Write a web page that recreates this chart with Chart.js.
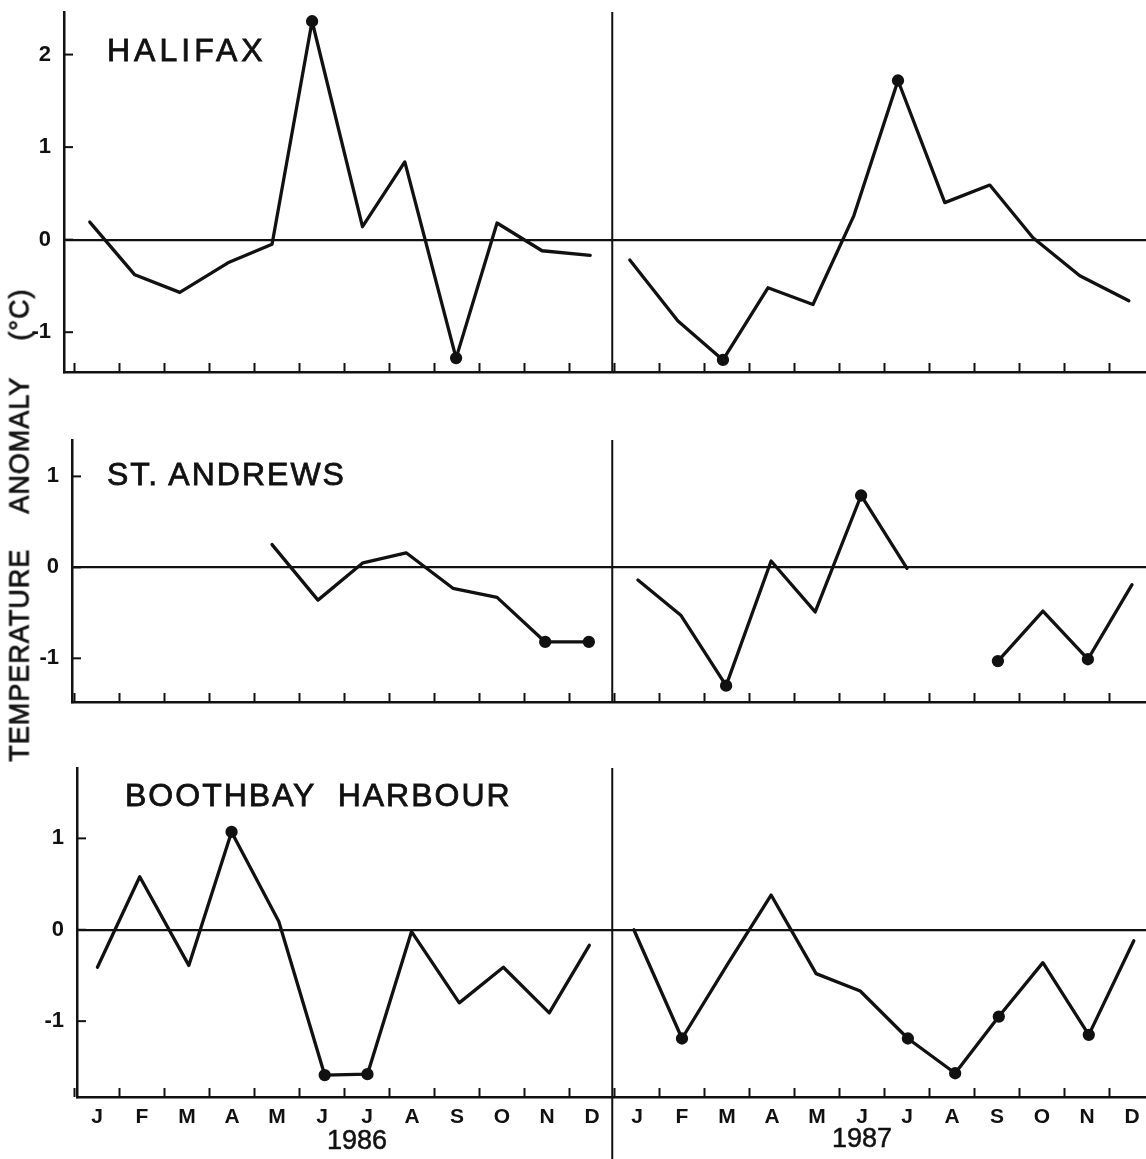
<!DOCTYPE html>
<html>
<head>
<meta charset="utf-8">
<title>Temperature anomaly 1986-1987</title>
<script src="https://cdn.jsdelivr.net/npm/chart.js@4.4.0/dist/chart.umd.min.js"></script>
<style>
body { margin: 0; background: #fff; width: 1146px; height: 1159px; position: relative; overflow: hidden;
       font-family: "Liberation Sans", Arial, sans-serif; color: #111; }
canvas { position: absolute; left: 0; }
.name { position: absolute; font-size: 32px; line-height: 32px; letter-spacing: 2px; white-space: pre;
        -webkit-text-stroke: 0.8px #111; }
.year { position: absolute; font-size: 27px; line-height: 27px; transform: translateX(-50%);
        -webkit-text-stroke: 0.5px #111; }
.ytitle { position: absolute; left: 20px; top: 525px; font-size: 27px; letter-spacing: 1px; word-spacing: 28px;
          white-space: nowrap; transform: translate(-50%, -50%) rotate(-90deg); -webkit-text-stroke: 0.8px #111; }
</style>
</head>
<body>
<canvas id="halifax" width="1146" height="380" style="top:0"></canvas>
<canvas id="standrews" width="1146" height="290" style="top:420px"></canvas>
<canvas id="boothbay" width="1146" height="409" style="top:750px"></canvas>

<div class="name" style="left:107px;top:34px;letter-spacing:4px">HALIFAX</div>
<div class="name" style="left:107px;top:458px">ST. ANDREWS</div>
<div class="name" style="left:125px;top:779px">BOOTHBAY  HARBOUR</div>
<div class="ytitle">TEMPERATURE ANOMALY (°C)</div>
<div class="year" id="y86" style="left:357px;top:1127px"></div>
<div class="year" id="y87" style="left:862px;top:1125px"></div>

<script>
// Monthly sea temperature anomalies, 1986-1987
// x = month index (0 = Jan 1986, 12 = Jan 1987), y = anomaly in deg C

const monthLabels = ['J', 'F', 'M', 'A', 'M', 'J', 'J', 'A', 'S', 'O', 'N', 'D'];
const yearLabels = ['1986', '1987'];
const yearDivider = 11.45;

// Halifax
const halifax86X = [-0.16, 0.84, 1.84, 2.91, 3.89, 4.78, 5.9, 6.84, 7.98, 8.89, 9.89, 10.96];
const halifax86Y = [0.19, -0.38, -0.57, -0.25, -0.05, 2.36, 0.14, 0.84, -1.28, 0.18, -0.12, -0.17];
const halifax86Dots = [5, 8];
const halifax87X = [11.84, 12.91, 13.91, 14.91, 15.91, 16.82, 17.8, 18.84, 19.84, 20.8, 21.84, 22.93];
const halifax87Y = [-0.22, -0.88, -1.3, -0.52, -0.7, 0.26, 1.72, 0.4, 0.59, 0.02, -0.39, -0.66];
const halifax87Dots = [2, 6];

// St. Andrews
const standrews86X = [3.89, 4.91, 5.91, 6.87, 7.91, 8.89, 9.96, 10.93];
const standrews86Y = [0.25, -0.36, 0.05, 0.16, -0.23, -0.33, -0.82, -0.82];
const standrews86Dots = [6, 7];
const standrews87X = [12.02, 12.98, 13.98, 14.98, 15.96, 16.98, 18.0, 19.0, 20.02, 21.02, 22.02, 23.0];
const standrews87Y = [-0.14, -0.53, -1.3, 0.07, -0.49, 0.79, -0.01, null, -1.03, -0.48, -1.01, -0.19];
const standrews87Dots = [2, 5, 8, 10];

// Boothbay Harbour
const boothbay86X = [0.01, 0.95, 2.04, 2.99, 4.04, 5.06, 6.01, 6.99, 8.05, 9.03, 10.05, 10.94];
const boothbay86Y = [-0.41, 0.58, -0.39, 1.07, 0.09, -1.59, -1.58, -0.02, -0.8, -0.41, -0.91, -0.17];
const boothbay86Dots = [3, 5, 6];
const boothbay87X = [11.93, 13.0, 14.02, 14.98, 15.98, 16.96, 18.02, 19.07, 20.04, 21.02, 22.04, 23.04];
const boothbay87Y = [0.0, -1.19, -0.37, 0.38, -0.48, -0.67, -1.19, -1.57, -0.95, -0.36, -1.15, -0.12];
const boothbay87Dots = [1, 6, 7, 8, 10];

const INK = '#111';
const FONT = '"Liberation Sans", Arial, sans-serif';

document.getElementById('y86').textContent = yearLabels[0];
document.getElementById('y87').textContent = yearLabels[1];

function series(xs, ys, dots) {
    return {
        data: xs.map((x, i) => ({x: x, y: ys[i]})),
        borderColor: INK,
        backgroundColor: INK,
        borderWidth: 3.3,
        borderJoinStyle: 'round',
        borderCapStyle: 'round',
        pointRadius: ctx => dots.includes(ctx.dataIndex) ? 4.5 : 0,
        pointHoverRadius: 0,
        tension: 0,
        spanGaps: false
    };
}

// inward tick marks at month boundaries and on the y axis, plus the year divider
const framePlugin = {
    id: 'frame',
    afterDraw(chart, args, opts) {
        const {ctx, chartArea: a, scales: {x, y}} = chart;
        ctx.save();
        ctx.strokeStyle = INK;
        ctx.lineWidth = 2;
        for (let m = Math.ceil(x.min) - 0.5; m < x.max; m++) {
            const px = x.getPixelForValue(m);
            ctx.beginPath();
            ctx.moveTo(px, a.bottom);
            ctx.lineTo(px, a.bottom - 9);
            ctx.stroke();
        }
        y.ticks.forEach(t => {
            const py = y.getPixelForValue(t.value);
            ctx.beginPath();
            ctx.moveTo(a.left, py);
            ctx.lineTo(a.left + 9, py);
            ctx.stroke();
        });
        const dx = x.getPixelForValue(opts.divider);
        ctx.beginPath();
        ctx.moveTo(dx, a.top);
        ctx.lineTo(dx, opts.toBottom ? chart.height : a.bottom);
        ctx.stroke();
        ctx.restore();
    }
};

function noPad(s) {
    s.paddingTop = 0;
    s.paddingBottom = 0;
    s.paddingLeft = 0;
    s.paddingRight = 0;
}

function makeChart(id, o) {
    return new Chart(document.getElementById(id), {
        type: 'line',
        data: {datasets: o.datasets},
        options: {
            responsive: false,
            animation: false,
            layout: {autoPadding: false, padding: {left: 0, right: 0, top: o.padTop, bottom: o.padBottom}},
            plugins: {
                legend: {display: false},
                tooltip: {enabled: false},
                frame: {divider: yearDivider, toBottom: o.showMonths}
            },
            scales: {
                x: {
                    type: 'linear',
                    min: (o.axisLeft - 97) / 45,
                    max: (1146 - 97) / 45,
                    afterFit: s => { s.height = o.xHeight; noPad(s); },
                    grid: {display: false},
                    border: {display: true, color: INK, width: 2.5},
                    ticks: {
                        display: o.showMonths,
                        stepSize: 1,
                        includeBounds: false,
                        autoSkip: false,
                        maxRotation: 0,
                        padding: 0,
                        color: INK,
                        font: {family: FONT, size: 21, weight: 'bold'},
                        callback: v => Number.isInteger(v) ? monthLabels[((v % 12) + 12) % 12] : ''
                    }
                },
                y: {
                    min: o.yMin,
                    max: o.yMax,
                    afterFit: s => { s.width = o.axisLeft; noPad(s); },
                    grid: {
                        drawTicks: false,
                        color: c => c.tick && c.tick.value === 0 ? INK : 'rgba(0,0,0,0)',
                        lineWidth: 2.2
                    },
                    border: {display: true, color: INK, width: 2.5},
                    ticks: {
                        stepSize: 1,
                        includeBounds: false,
                        padding: 13,
                        color: INK,
                        font: {family: FONT, size: 22, weight: 'bold'},
                        callback: v => String(v)
                    }
                }
            }
        },
        plugins: [framePlugin]
    });
}

makeChart('halifax', {
    axisLeft: 64, padTop: 12, padBottom: 8, xHeight: 0, showMonths: false,
    yMin: -1.43, yMax: 2.46,
    datasets: [
        series(halifax86X, halifax86Y, halifax86Dots),
        series(halifax87X, halifax87Y, halifax87Dots)
    ]
});

makeChart('standrews', {
    axisLeft: 72, padTop: 20, padBottom: 8, xHeight: 0, showMonths: false,
    yMin: -1.48, yMax: 1.4,
    datasets: [
        series(standrews86X, standrews86Y, standrews86Dots),
        series(standrews87X, standrews87Y, standrews87Dots)
    ]
});

makeChart('boothbay', {
    axisLeft: 77, padTop: 18, padBottom: 0, xHeight: 62, showMonths: true,
    yMin: -1.83, yMax: 1.77,
    datasets: [
        series(boothbay86X, boothbay86Y, boothbay86Dots),
        series(boothbay87X, boothbay87Y, boothbay87Dots)
    ]
});
</script>
</body>
</html>
